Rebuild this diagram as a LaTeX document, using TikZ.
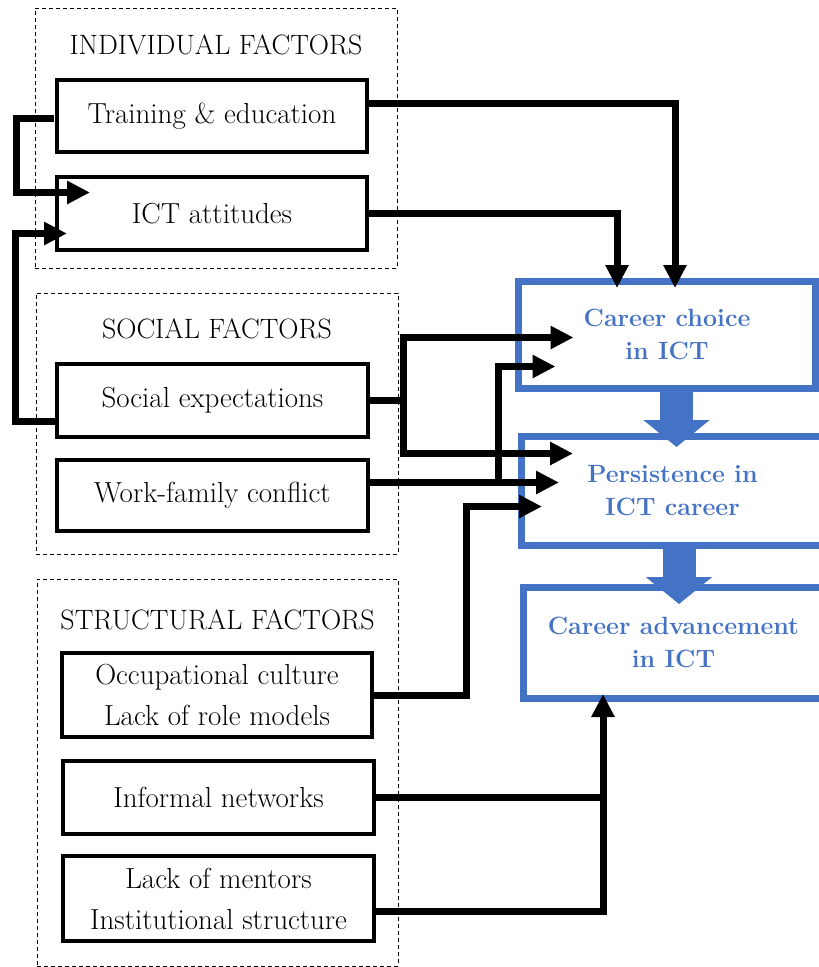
\documentclass[tikz,border=0pt]{standalone}
\usetikzlibrary{arrows.meta,calc,positioning}
\definecolor{ictblue}{HTML}{4472C4}

\begin{document}
\begin{tikzpicture}[x=1pt, y=-1pt,
    gruppe/.style={draw, line width=0.9pt, dash pattern=on 4pt off 3pt, inner sep=0pt, outer sep=0pt},
    titel/.style={anchor=north, inner sep=0pt, font=\fontsize{28}{33}\selectfont},
    faktor/.style={draw, line width=4pt, inner sep=0pt, outer sep=0pt, align=center, font=\fontsize{29}{41}\selectfont},
    ergebnis/.style={draw=ictblue, line width=7pt, inner sep=0pt, outer sep=0pt, align=center, text=ictblue, font=\bfseries\fontsize{25}{33}\selectfont},
    leitung/.style={line width=7pt},
    pfeil/.style={line width=7pt, -{Triangle[length=23pt,width=22pt]}},
    fluss/.style={draw=ictblue, line width=33pt, -{Triangle[length=27pt,width=65pt]}}]
    % Rahmen des Bildes
    \clip (0,0) rectangle (819,967);

    % Gestrichelte Gruppen
    \node[gruppe, minimum width=362pt, minimum height=260pt] (indiv) at (216,138) {};
    \node[titel] at ([yshift=-27pt]indiv.north) {INDIVIDUAL FACTORS};
    \node[gruppe, minimum width=362pt, minimum height=261pt] (social) at (217,423.5) {};
    \node[titel] at ([yshift=-25pt]social.north) {SOCIAL FACTORS};
    \node[gruppe, minimum width=361pt, minimum height=387pt] (struct) at (217.5,772.5) {};
    \node[titel] at ([yshift=-30pt]struct.north) {STRUCTURAL FACTORS};

    % Einflussfaktoren
    \node[faktor, minimum width=310pt, minimum height=72pt] (train) at (212,116) {Training \& education};
    \node[faktor, minimum width=310pt, minimum height=73pt] (attit) at (212,213.5) {ICT attitudes};
    \node[faktor, minimum width=311pt, minimum height=73pt] (expect) at (212.5,400.5) {Social expectations};
    \node[faktor, minimum width=311pt, minimum height=71pt] (conflict) at (212.5,495.5) {Work-family conflict};
    \node[faktor, minimum width=310pt, minimum height=84pt] (culture) at (217,695) {Occupational culture\\Lack of role models};
    \node[faktor, minimum width=311pt, minimum height=73pt] (networks) at (218.5,797.5) {Informal networks};
    \node[faktor, minimum width=311pt, minimum height=85pt] (mentors) at (218.5,898.5) {Lack of mentors\\Institutional structure};

    % Karrierestufen
    \node[ergebnis, minimum width=297pt, minimum height=107pt] (choice) at (667,334.5) {Career choice\\in ICT};
    \node[ergebnis, minimum width=303pt, minimum height=109pt] (persist) at (672.5,490.5) {Persistence in\\ICT career};
    \node[ergebnis, minimum width=301pt, minimum height=111pt] (advance) at (673.5,642.5) {Career advancement\\in ICT};

    % Blaue Pfeile zwischen den Stufen
    \draw[fluss] ($(choice.south)+(9.5,0)$) -- ($(persist.north)+(4,11)$);
    \draw[fluss] ($(persist.south)+(6.5,0)$) -- ($(advance.north)+(5.5,17)$);

    % Individuelle Faktoren
    \draw[pfeil] ([yshift=13pt]train.east) -| ($(choice.north)+(8,7)$);
    \draw[pfeil] (attit.east) -| ($(choice.north)+(-50,7)$);
    \draw[pfeil] ([xshift=-3pt,yshift=-2pt]train.west) -- ++(-38,0) |- ($(attit.west)+(33,-21)$);
    \draw[pfeil] ([yshift=-21pt]expect.west) -- ++(-42,0) |- ($(attit.west)+(10,20)$);

    % Soziale Faktoren
    \draw[leitung] (expect.east) -- ++(35,0) coordinate (gabel);
    \draw[pfeil] (gabel) |- ($(choice.west)+(55,3)$);
    \draw[pfeil] (gabel) |- ($(persist.west)+(52,-37)$);
    \draw[pfeil] ([yshift=13pt]conflict.east) -- ($(persist.west)+(38,-8)$);
    \coordinate (abzweig) at (498,482.5);
    \draw[pfeil] (abzweig) |- ($(choice.west)+(37,32)$);

    % Strukturelle Faktoren
    \draw[pfeil] (culture.east) -- ++(94,0) |- ($(persist.west)+(21,16)$);
    \draw[pfeil] (networks.east) -| ($(advance.south)+(-70.5,-4)$);
    \draw[leitung] ([yshift=-13pt]mentors.east) -| ($(advance.south)+(-70.5,103)$);
\end{tikzpicture}
\end{document}
